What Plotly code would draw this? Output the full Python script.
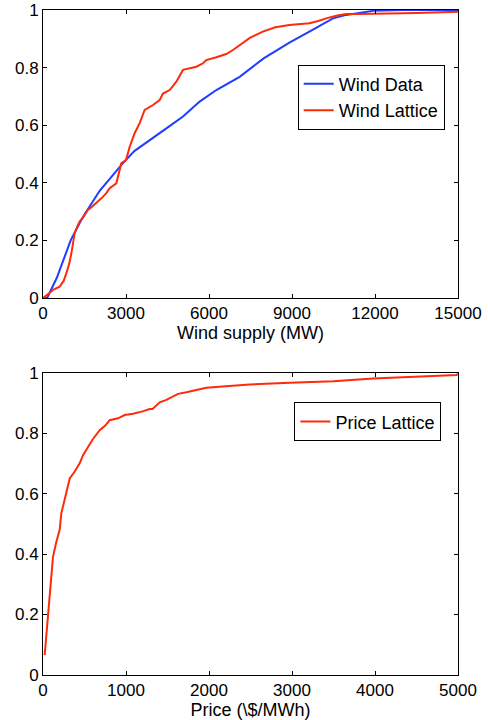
import plotly.graph_objects as go

# ---- data ----
wind_data_x = [0, 150, 500, 1000, 1325, 1500, 2048, 2500, 2891, 3300, 3856, 4459, 5060, 5663, 6265,
               7108, 7975, 8906, 9628, 10481, 10964, 11500, 11928, 13000, 15000]
wind_data_y = [0, 0.0, 0.07, 0.20, 0.26, 0.29, 0.372, 0.425, 0.468, 0.51, 0.549, 0.589, 0.63, 0.682,
               0.722, 0.768, 0.832, 0.887, 0.925, 0.971, 0.983, 0.992, 0.997, 1.0, 1.0]

wind_lat_x = [0, 200, 400, 600, 750, 845, 950, 1025, 1144, 1250, 1325, 1450, 1625, 1750, 1927, 2100,
              2289, 2410, 2651, 2832, 3000, 3133, 3313, 3494, 3675, 3976, 4217, 4337, 4579, 4820,
              5060, 5300, 5542, 5783, 5903, 6265, 6626, 6867, 7108, 7462, 7943, 8400, 8906, 9300,
              9628, 9950, 10230, 10600, 10952, 11400, 11913, 12500, 13500, 14500, 15000]
wind_lat_y = [0, 0.015, 0.03, 0.039, 0.06, 0.086, 0.12, 0.155, 0.225, 0.25, 0.265, 0.28, 0.306, 0.315,
              0.329, 0.345, 0.364, 0.381, 0.398, 0.468, 0.479, 0.525, 0.572, 0.607, 0.653, 0.67,
              0.6875, 0.71, 0.722, 0.751, 0.792, 0.798, 0.803, 0.815, 0.826, 0.836, 0.847, 0.861,
              0.878, 0.902, 0.925, 0.94, 0.948, 0.952, 0.954, 0.962, 0.971, 0.98, 0.986, 0.986,
              0.986, 0.988, 0.99, 0.991, 0.994]

price_x = [20, 60, 101, 120, 160, 201, 221, 281, 322, 382, 442, 482, 542, 600, 683, 750, 803, 904, 984,
           1084, 1200, 1285, 1320, 1406, 1486, 1627, 1727, 1850, 1968, 2200, 2490, 2972, 3500, 3976,
           4500, 4980, 5000]
price_y = [0.066, 0.193, 0.336, 0.39, 0.44, 0.48, 0.535, 0.60, 0.65, 0.673, 0.70, 0.727, 0.755, 0.78,
           0.81, 0.825, 0.843, 0.849, 0.86, 0.864, 0.872, 0.88, 0.88, 0.902, 0.91, 0.93, 0.935, 0.943,
           0.95, 0.955, 0.961, 0.967, 0.972, 0.981, 0.986, 0.992, 0.996]

y_ticks = [0, 0.2, 0.4, 0.6, 0.8, 1]
y_tick_text = ["0", "0.2", "0.4", "0.6", "0.8", "1"]
wind_ticks = [0, 3000, 6000, 9000, 12000, 15000]
wind_tick_text = ["0", "3000", "6000", "9000", "12000", "15000"]
price_ticks = [0, 1000, 2000, 3000, 4000, 5000]
price_tick_text = ["0", "1000", "2000", "3000", "4000", "5000"]

BLUE = "#1f3cff"
RED = "#ff2a0a"
FONT = "Liberation Sans, Arial, sans-serif"

fig = go.Figure()
fig.add_trace(go.Scatter(x=wind_data_x, y=wind_data_y, mode="lines", name="Wind Data",
                         line=dict(color=BLUE, width=2), xaxis="x", yaxis="y", legend="legend"))
fig.add_trace(go.Scatter(x=wind_lat_x, y=wind_lat_y, mode="lines", name="Wind Lattice",
                         line=dict(color=RED, width=2), xaxis="x", yaxis="y", legend="legend"))
fig.add_trace(go.Scatter(x=price_x, y=price_y, mode="lines", name="Price Lattice",
                         line=dict(color=RED, width=2), xaxis="x2", yaxis="y2", legend="legend2"))

axis_common = dict(showline=True, linecolor="black", linewidth=1, mirror="ticks", ticks="inside",
                   ticklen=4, tickcolor="black", showgrid=False, zeroline=False, automargin=False,
                   tickfont=dict(family=FONT, size=17, color="black"))

fig.update_layout(
    width=488, height=720,
    margin=dict(l=43, r=30, t=10, b=45),
    paper_bgcolor="white", plot_bgcolor="white",
    font=dict(family=FONT, size=17, color="black"),
    xaxis=dict(domain=[0, 1], anchor="y", range=[0, 15000], tickvals=wind_ticks, ticktext=wind_tick_text,
               title=dict(text="Wind supply (MW)", standoff=0, font=dict(size=18)), **axis_common),
    yaxis=dict(domain=[0.567, 1.0], anchor="x", range=[0, 1], tickvals=y_ticks, ticktext=y_tick_text,
               **axis_common),
    xaxis2=dict(domain=[0, 1], anchor="y2", range=[0, 5000], tickvals=price_ticks,
                ticktext=price_tick_text,
                title=dict(text="Price (\\$/MWh)", standoff=0, font=dict(size=18)), **axis_common),
    yaxis2=dict(domain=[0, 0.4546], anchor="x2", range=[0, 1], tickvals=y_ticks, ticktext=y_tick_text,
                **axis_common),
    legend=dict(x=0.968, y=0.918, xanchor="right", yanchor="top", bordercolor="black", borderwidth=1,
                bgcolor="white", font=dict(size=18), tracegroupgap=0, itemwidth=30),
    legend2=dict(x=0.96, y=0.41, xanchor="right", yanchor="top", bordercolor="black", borderwidth=1,
                 bgcolor="white", font=dict(size=18), itemwidth=30),
    showlegend=True,
)

# remove the page's default 8px body margin so the figure fills the window exactly
fig.write_html("out.html", config={"displayModeBar": False},
               post_script="document.body.style.margin='0';document.body.style.overflow='hidden';")
